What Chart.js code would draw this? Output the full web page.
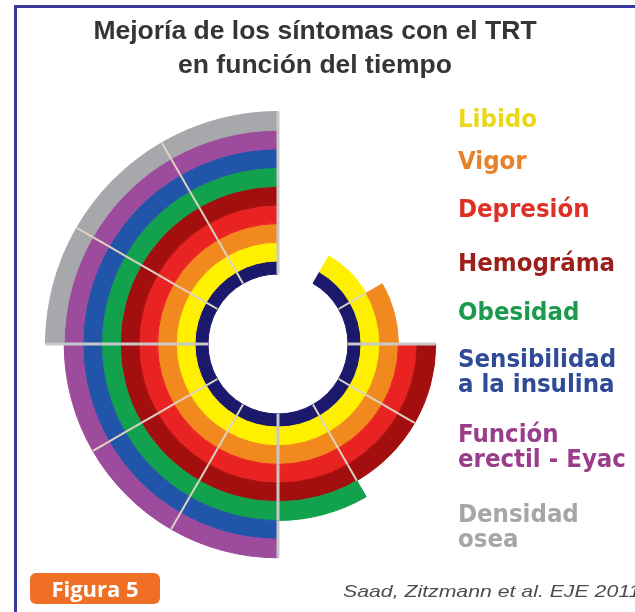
<!DOCTYPE html>
<html>
<head>
<meta charset="utf-8">
<script src="https://cdn.jsdelivr.net/npm/chart.js@4.4.0/dist/chart.umd.min.js"></script>
<style>
html,body{margin:0;padding:0;background:#fff;}
#wrap{position:relative;width:635px;height:612px;overflow:hidden;background:#fff;}
#frameTop{position:absolute;left:14px;top:5px;width:621px;height:3px;background:#363a9e;}
#frameLeft{position:absolute;left:14px;top:5px;width:3px;height:607px;background:#363a9e;}
#chart{position:absolute;left:0;top:0;}
.title{position:absolute;left:0;width:630px;text-align:center;font-family:"Liberation Sans",Arial,sans-serif;font-weight:bold;font-size:26.5px;line-height:26.5px;color:#353535;white-space:nowrap;}
.leg{position:absolute;left:458px;font-family:"DejaVu Sans Condensed","DejaVu Sans",sans-serif;font-stretch:condensed;font-weight:bold;font-size:25.5px;line-height:25.5px;white-space:nowrap;}
#badge{position:absolute;left:30px;top:573px;width:130px;height:31px;border-radius:6px;background:#ef7024;color:#fff;font-family:"Open Sans",sans-serif;font-weight:bold;font-size:22px;line-height:31px;text-align:center;white-space:nowrap;}
#cite{position:absolute;left:343px;top:582.6px;font-family:"Liberation Sans",Arial,sans-serif;font-style:italic;font-size:17px;line-height:17px;color:#4d4d4d;white-space:nowrap;transform:scaleX(1.25);transform-origin:0 0;}
</style>
</head>
<body>
<div id="wrap">
  <div id="frameTop"></div>
  <div id="frameLeft"></div>
  <canvas id="chart" width="635" height="612"></canvas>
  <div class="title" style="top:16.6px">Mejoría de los síntomas con el TRT</div>
  <div class="title" style="top:50.6px">en función del tiempo</div>
  <div id="legend"></div>
  <div id="badge">Figura 5</div>
  <div id="cite">Saad, Zitzmann et al. EJE 2011</div>
</div>
<script>
// ---- data ----
const periods = ['1','2','3','4','5','6','7','8','9','10','11','12']; // 12 equal time periods (30° each), clockwise from 12 o'clock
const periodSpan = [1,1,1,1,1,1,1,1,1,1,1,1];
const symptoms = ['Libido','Vigor','Depresión','Hemográma','Obesidad','Sensibilidad a la insulina','Función erectil - Eyac','Densidad osea'];
const legendLines = [['Libido'],['Vigor'],['Depresión'],['Hemográma'],['Obesidad'],['Sensibilidad','a la insulina'],['Función','erectil - Eyac'],['Densidad','osea']];
const onsetPeriod = [2,3,4,4,6,7,7,10];   // period in which the improvement begins
const timelineLabel = 'Tiempo';
const timelineOnset = 2;

// ---- styles ----
const ringColors = ['#fff000','#f2891f','#e92322','#a30e0e','#12a14c','#2155a9','#9c4b9d','#a7a8ab'];
const timelineColor = '#1c196c';
const legendColors = ['#ecd81a','#e7822a','#dd3128','#9c1f1a','#1b9a4f','#2f4a97','#9a3d8b','#a4a6a9'];
const legendBaselines = [128,170,218,272,321,368,443,523];
const legendLineGap = 25;
const legendFont = 25.5;

// legend (real text)
const legendEl = document.getElementById('legend');
legendLines.forEach((lines, i) => {
  lines.forEach((txt, j) => {
    const d = document.createElement('div');
    d.className = 'leg';
    d.textContent = txt;
    d.style.color = legendColors[i];
    d.style.top = (legendBaselines[i] + j * legendLineGap - 0.846 * legendFont) + 'px';
    legendEl.appendChild(d);
  });
});

function segColors(color, onset) {
  return periods.map((p, k) => (k + 1 >= onset ? color : 'rgba(0,0,0,0)'));
}

const datasets = [];
for (let i = symptoms.length - 1; i >= 0; i--) {
  const cols = segColors(ringColors[i], onsetPeriod[i]);
  datasets.push({
    label: symptoms[i],
    data: periodSpan,
    onset: onsetPeriod[i] - 1,
    backgroundColor: cols,
    borderColor: cols,
    borderWidth: 1,
    weight: 1
  });
}
const tcols = segColors(timelineColor, timelineOnset);
datasets.push({
  label: timelineLabel,
  data: periodSpan,
  onset: timelineOnset - 1,
  backgroundColor: tcols,
  borderColor: tcols,
  borderWidth: 1,
  weight: 0.7
});

const spokePlugin = {
  id: 'spokes',
  afterDatasetsDraw(chart) {
    const ctx = chart.ctx;
    chart.data.datasets.forEach((ds, di) => {
      const meta = chart.getDatasetMeta(di);
      const n = meta.data.length;
      const active = k => (((k % n) + n) % n) >= ds.onset;
      for (let k = 0; k < n; k++) {
        const a = active(k), prev = active(k - 1);
        const cardinal = k % 3 === 0;
        if (!((a && prev) || (cardinal && (a || prev)))) continue;
        const arc = meta.data[k];
        const p = arc.getProps(['x', 'y', 'startAngle', 'innerRadius', 'outerRadius'], true);
        const ang = p.startAngle;
        ctx.save();
        ctx.strokeStyle = cardinal ? '#c8c8c8' : '#ddd3c3';
        ctx.lineWidth = cardinal ? 3 : 2;
        ctx.lineCap = 'butt';
        ctx.beginPath();
        ctx.moveTo(p.x + Math.cos(ang) * p.innerRadius, p.y + Math.sin(ang) * p.innerRadius);
        ctx.lineTo(p.x + Math.cos(ang) * p.outerRadius, p.y + Math.sin(ang) * p.outerRadius);
        ctx.stroke();
        ctx.restore();
      }
    });
  }
};

new Chart(document.getElementById('chart'), {
  type: 'doughnut',
  data: { labels: periods, datasets: datasets },
  options: {
    responsive: false,
    devicePixelRatio: 1,
    animation: false,
    cutout: 70,
    rotation: 0,
    circumference: 360,
    spacing: 0,
    hoverOffset: 0,
    layout: { padding: { left: 45, top: 111, right: 124, bottom: 35 } },
    plugins: { legend: { display: false }, tooltip: { enabled: false }, title: { display: false } }
  },
  plugins: [spokePlugin]
});
</script>
</body>
</html>
